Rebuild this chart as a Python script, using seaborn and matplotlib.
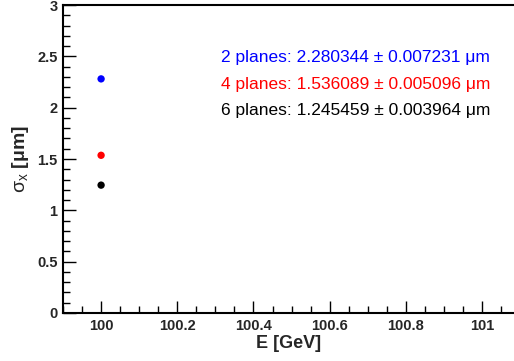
import numpy as np
import pandas as pd
import matplotlib
matplotlib.use("Agg")
import matplotlib.pyplot as plt
from matplotlib.ticker import MultipleLocator
import seaborn as sns

planes = ["2 planes", "4 planes", "6 planes"]
energy = [100, 100, 100]
sigma = [2.280344, 1.536089, 1.245459]
sigma_err = [0.007231, 0.005096, 0.003964]
colors = ["#0000ff", "#ff0000", "#000000"]

df = pd.DataFrame({"planes": planes, "E": energy, "sigma": sigma})

sns.set_theme(style="ticks")
plt.rcParams["font.family"] = ["Liberation Sans", "DejaVu Sans"]
plt.rcParams["mathtext.fontset"] = "custom"
plt.rcParams["mathtext.rm"] = "Liberation Sans"
plt.rcParams["mathtext.it"] = "Liberation Sans"
plt.rcParams["mathtext.bf"] = "Liberation Sans:bold"

fig = plt.figure(figsize=(5.14, 3.61), dpi=100)
ax = fig.add_axes([63/514, 48/361, 451/514, 308/361])

sns.scatterplot(data=df, x="E", y="sigma", hue="planes", palette=colors,
                s=28, edgecolor="none", legend=False, ax=ax, zorder=3)

ax.set_xlim(99.9, 101.084)
ax.set_ylim(0, 3)
ax.xaxis.set_minor_locator(MultipleLocator(0.05))
ax.yaxis.set_minor_locator(MultipleLocator(0.1))
ax.set_xticks(np.arange(100, 101.01, 0.2))
ax.set_xticklabels(["100", "100.2", "100.4", "100.6", "100.8", "101"])
ax.set_yticks(np.arange(0, 3.01, 0.5))
ax.set_yticklabels(["0", "0.5", "1", "1.5", "2", "2.5", "3"])

ax.tick_params(which="major", direction="in", length=9, width=1, color="black",
               labelsize=10.5, pad=4)
ax.tick_params(which="minor", direction="in", length=5, width=1, color="black")
for lab in ax.get_xticklabels() + ax.get_yticklabels():
    lab.set_fontweight("bold")

for side in ["left", "bottom", "top"]:
    ax.spines[side].set_linewidth(1.5)
    ax.spines[side].set_color("black")
ax.spines["right"].set_visible(False)

ax.set_xlabel("E [GeV]", fontsize=13, fontweight="bold", labelpad=2)
ax.set_ylabel(r"$\sigma_{x}$ [μm]", fontsize=14, fontweight="bold")
ax.yaxis.set_label_coords(-0.072, 0.5)

# text rows, baselines in pixels from top
y_txt = [62, 88.5, 115]
for lab, s, e, c, yp in zip(planes, sigma, sigma_err, colors, y_txt):
    fig.text(221/514, 1 - yp/361, f"{lab}: {s:.6f} ± {e:.6f} μm", color=c,
             fontsize=12.5, va="baseline", ha="left")

fig.savefig("out.png", dpi=100)
